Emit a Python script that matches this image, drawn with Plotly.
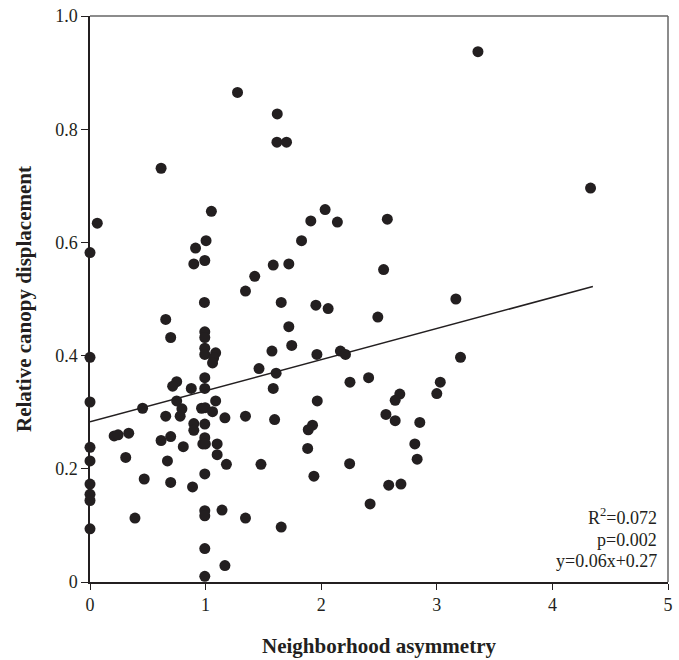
import plotly.graph_objects as go

asym = [
    1.276, 1.62, 1.617, 1.70, 0.615, 3.356, 4.33,
    0.063, 0.0, 1.05, 1.004, 0.913, 0.993, 0.898, 1.585, 1.425, 1.345, 0.99, 1.654,
    0.655, 0.698, 0.993, 0.993, 0.993, 0.993, 1.087, 1.07, 1.06, 0.0, 1.574, 1.61,
    1.462, 1.585, 0.993, 0.993, 0.876, 0.75, 0.715,
    0.0, 0.75, 1.087, 0.455, 0.795, 0.78, 0.655, 0.965, 0.996, 1.06, 1.167, 1.345,
    1.597, 0.898, 0.993, 0.898, 0.209, 0.243, 0.335, 0.615, 0.698, 0.993, 0.976,
    0.998, 1.10, 0.807, 0.0, 1.10, 0.309, 0.0, 0.67, 1.18, 1.479, 0.993, 0.469,
    0.698, 0.0, 0.887, 0.0, 0.0, 0.993, 0.993, 1.142, 0.389, 1.345, 1.654, 0.0,
    0.993, 1.167, 0.993,
    2.034, 1.91, 2.14, 2.572, 1.83, 1.72, 2.54, 1.954, 2.06, 3.165, 2.49, 1.72,
    1.745, 1.963, 2.166, 2.21, 3.205, 2.249, 2.41, 3.03, 2.68, 3.0,
    1.966, 2.64, 1.925, 1.888, 2.56, 2.64, 2.853, 1.883, 2.81, 2.83, 2.246, 1.937,
    2.584, 2.69, 2.423,
]
displacement = [
    0.865, 0.827, 0.777, 0.777, 0.731, 0.937, 0.696,
    0.634, 0.582, 0.655, 0.603, 0.590, 0.568, 0.562, 0.560, 0.540, 0.514, 0.494, 0.494,
    0.464, 0.432, 0.442, 0.432, 0.413, 0.402, 0.405, 0.396, 0.387, 0.397, 0.408, 0.369,
    0.377, 0.342, 0.361, 0.342, 0.342, 0.354, 0.346,
    0.318, 0.320, 0.320, 0.307, 0.306, 0.293, 0.293, 0.307, 0.308, 0.301, 0.290, 0.293,
    0.287, 0.280, 0.279, 0.268, 0.258, 0.260, 0.263, 0.250, 0.257, 0.255, 0.244,
    0.244, 0.244, 0.239, 0.238, 0.225, 0.220, 0.214, 0.214, 0.208, 0.208, 0.191, 0.182,
    0.176, 0.173, 0.168, 0.155, 0.144, 0.126, 0.117, 0.127, 0.113, 0.113, 0.097, 0.094,
    0.059, 0.029, 0.010,
    0.658, 0.638, 0.636, 0.641, 0.603, 0.562, 0.552, 0.489, 0.483, 0.500, 0.468, 0.451,
    0.418, 0.402, 0.408, 0.402, 0.397, 0.353, 0.361, 0.353, 0.332, 0.333,
    0.320, 0.321, 0.277, 0.269, 0.296, 0.285, 0.282, 0.236, 0.244, 0.217, 0.209, 0.187,
    0.171, 0.173, 0.138,
]

fit_x = [0.0, 4.35]
fit_y = [0.283, 0.522]

stats_lines = ["R<sup>2</sup>=0.072", "p=0.002", "y=0.06x+0.27"]
stats_y = [0.115, 0.075, 0.037]

x_ticks = [0, 1, 2, 3, 4, 5]
y_ticks = [0, 0.2, 0.4, 0.6, 0.8, 1.0]
y_tick_text = ["0", "0.2", "0.4", "0.6", "0.8", "1.0"]

serif = "Liberation Serif"

fig = go.Figure()
fig.add_trace(go.Scatter(
    x=asym, y=displacement, mode="markers",
    marker=dict(color="#231f20", size=11, line=dict(width=0)),
    cliponaxis=False, showlegend=False,
))
fig.add_trace(go.Scatter(
    x=fit_x, y=fit_y, mode="lines",
    line=dict(color="#231f20", width=1.5), showlegend=False,
))

for txt, yy in zip(stats_lines, stats_y):
    fig.add_annotation(
        x=0.985, xref="paper", y=yy, yref="y", text=txt, showarrow=False,
        xanchor="right", yanchor="middle",
        font=dict(family=serif, size=18, color="#231f20"),
    )

# top and right frame
fig.add_shape(type="line", xref="paper", yref="paper", x0=0, x1=1, y0=1, y1=1,
              line=dict(color="#666666", width=1.5))
fig.add_shape(type="line", xref="paper", yref="paper", x0=1, x1=1, y0=0, y1=1,
              line=dict(color="#666666", width=1.5))

fig.update_layout(
    width=679, height=660,
    margin=dict(l=90, r=6, t=14, b=71),
    paper_bgcolor="white", plot_bgcolor="white",
    font=dict(family=serif, color="#231f20"),
    xaxis=dict(
        range=[0, 5], tickvals=x_ticks, ticks="outside", ticklen=6,
        tickcolor="#231f20", showline=True, linecolor="#231f20", linewidth=1.5,
        showgrid=False, zeroline=False,
        tickfont=dict(family=serif, size=18),
        title=dict(text="<b>Neighborhood asymmetry</b>",
                   font=dict(family=serif, size=21), standoff=24),
    ),
    yaxis=dict(
        range=[0, 1.0], tickvals=y_ticks, ticktext=y_tick_text, ticks="outside",
        ticklen=7, tickcolor="#231f20", showline=True, linecolor="#231f20",
        linewidth=1.5, showgrid=False, zeroline=False,
        tickfont=dict(family=serif, size=18),
        title=dict(text="<b>Relative canopy displacement</b>",
                   font=dict(family=serif, size=21), standoff=18),
    ),
)

fig.write_html("out.html")
